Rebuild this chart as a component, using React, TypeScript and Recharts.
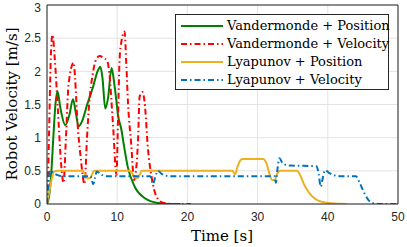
import { LineChart, Line, XAxis, YAxis, CartesianGrid } from "recharts";

// Vandermonde + Position
const greenT = [0, 0.3, 0.6, 0.9, 1.2, 1.5, 1.9, 2.6, 3.2, 3.7, 4.1, 4.5, 5.0, 5.7, 6.6, 7.2, 7.6, 7.9, 8.3, 8.7, 9.2, 9.6, 9.9, 10.1, 10.6, 10.9, 11.5, 12.5, 13.9, 15.8, 17.5, 19];
const greenV = [0, 0.12, 0.45, 1.0, 1.5, 1.7, 1.45, 1.19, 1.35, 1.58, 1.38, 1.17, 1.25, 1.49, 1.78, 2.0, 2.07, 1.9, 1.44, 1.6, 2.05, 1.8, 1.54, 1.35, 1.12, 0.92, 0.56, 0.26, 0.09, 0.015, 0, 0];

// Vandermonde + Velocity
const redT = [0, 0.1, 0.3, 0.54, 0.78, 1.1, 1.55, 2.0, 2.35, 2.7, 3.07, 3.8, 4.0, 4.3, 4.8, 5.35, 5.7, 6.0, 6.5, 7.0, 7.5, 8.1, 8.6, 8.9, 9.4, 9.9, 10.1, 10.35, 10.6, 11.05, 11.3, 11.55, 12.0, 12.4, 12.95, 13.2, 13.6, 13.9, 14.4, 14.9, 15.6, 16.5, 18, 20.5];
const redV = [0, 0.2, 1.1, 2.2, 2.55, 2.2, 1.42, 0.62, 0.32, 1.0, 1.8, 2.13, 1.9, 1.3, 0.7, 0.3, 1.0, 1.5, 1.95, 2.18, 2.23, 2.2, 2.15, 1.95, 1.2, 0.44, 1.2, 2.2, 2.45, 2.6, 2.1, 1.5, 0.9, 0.36, 0.92, 1.62, 1.69, 1.54, 0.81, 0.41, 0.11, 0.02, 0, 0];

// Lyapunov + Position
const orangeT = [0, 0.46, 1.0, 1.5, 5.1, 5.4, 5.7, 6.1, 6.4, 6.7, 11.7, 12.1, 12.5, 12.9, 13.2, 13.5, 26.4, 26.8, 27.1, 27.5, 27.8, 30.8, 31.3, 31.7, 32.1, 32.4, 32.8, 33.2, 35.6, 36.0, 36.6, 37.4, 38.3, 39.3, 40.5, 42.7];
const orangeV = [0, 0.26, 0.49, 0.5, 0.5, 0.45, 0.39, 0.39, 0.44, 0.5, 0.5, 0.47, 0.4, 0.39, 0.44, 0.5, 0.5, 0.45, 0.55, 0.65, 0.68, 0.68, 0.6, 0.45, 0.36, 0.36, 0.46, 0.5, 0.5, 0.45, 0.3, 0.16, 0.07, 0.03, 0.01, 0];

// Lyapunov + Velocity
const blueT = [0, 0.2, 0.46, 0.8, 1.4, 2.2, 6.2, 6.6, 6.8, 7.1, 7.6, 8.5, 14.7, 15.1, 15.4, 15.8, 16.4, 17.5, 32.4, 32.6, 32.8, 33.1, 33.6, 34.6, 38.4, 38.7, 39.0, 39.3, 39.6, 40.3, 41.7, 44.0, 44.5, 45.0, 45.8, 46.5, 47.5, 50];
const blueV = [0, 0.3, 0.51, 0.48, 0.44, 0.42, 0.42, 0.3, 0.38, 0.49, 0.45, 0.42, 0.42, 0.3, 0.4, 0.5, 0.45, 0.42, 0.42, 0.32, 0.5, 0.69, 0.61, 0.58, 0.57, 0.45, 0.26, 0.4, 0.51, 0.46, 0.42, 0.42, 0.33, 0.21, 0.06, 0.01, 0, 0];

const xTicks = [0, 10, 20, 30, 40, 50];
const yTicks = [0, 0.5, 1, 1.5, 2, 2.5, 3];

const FRAME = "#262626";
const SERIF = "'DejaVu Serif', serif";
const SANS = "'Liberation Sans', Arial, sans-serif";
const DASHDOT = "6 3 1.5 3";

const zip = (t: number[], v: number[]) => t.map((x, i) => ({ t: x, v: v[i] }));

const series = [
  { name: "Vandermonde + Position", data: zip(greenT, greenV), color: "#008000", dash: undefined },
  { name: "Vandermonde + Velocity", data: zip(redT, redV), color: "#ff0000", dash: DASHDOT },
  { name: "Lyapunov + Position", data: zip(orangeT, orangeV), color: "#EDB120", dash: undefined },
  { name: "Lyapunov + Velocity", data: zip(blueT, blueV), color: "#0072BD", dash: DASHDOT },
];

const tickStyle = { fontFamily: SANS, fontSize: 12, fill: FRAME };

function LegendBox() {
  return (
    <div
      style={{
        position: "absolute",
        left: 175,
        top: 14,
        width: 212,
        height: 74,
        background: "#fff",
        border: `1px solid ${FRAME}`,
        fontFamily: SERIF,
        fontSize: 13,
        color: "#000",
      }}
    >
      {series.map((s, i) => (
        <div key={s.name} style={{ position: "absolute", left: 4, top: 2 + i * 17.9, height: 18, display: "flex", alignItems: "center", whiteSpace: "nowrap" }}>
          <svg width={44} height={18} style={{ display: "block" }}>
            <line x1={1} x2={43} y1={9} y2={9} stroke={s.color} strokeWidth={2} strokeDasharray={s.dash} />
          </svg>
          <span style={{ marginLeft: 3, lineHeight: "18px", fontFamily: SERIF }}>{s.name}</span>
        </div>
      ))}
    </div>
  );
}

export default function App() {
  return (
    <div style={{ position: "fixed", left: 0, top: 0, width: 407, height: 247, background: "#fff" }}>
      <LineChart width={407} height={247} margin={{ top: 5, right: 9, bottom: 0, left: 0 }}>
        <CartesianGrid stroke="#e3e3e3" strokeWidth={1} />
        <XAxis
          dataKey="t"
          type="number"
          domain={[0, 50]}
          ticks={xTicks}
          height={43}
          tick={tickStyle}
          tickLine={false}
          tickSize={6}
          axisLine={{ stroke: FRAME }}
          allowDataOverflow
          label={{
            content: () => (
              <text x={222} y={236} textAnchor="middle" dominantBaseline="central" style={{ fontFamily: SERIF, fontSize: 15 }} fill="#000">
                Time [s]
              </text>
            ),
          }}
        />
        <YAxis
          type="number"
          domain={[0, 3]}
          ticks={yTicks}
          width={47}
          tick={tickStyle}
          tickLine={false}
          tickSize={4}
          tickMargin={2}
          axisLine={{ stroke: FRAME }}
          allowDataOverflow
          label={{
            content: () => (
              <text
                x={12}
                y={104}
                transform="rotate(-90 12 104)"
                textAnchor="middle"
                dominantBaseline="central"
                style={{ fontFamily: SERIF, fontSize: 15 }}
                fill="#000"
              >
                Robot Velocity [m/s]
              </text>
            ),
          }}
        />
        {/* inward ticks and the rest of the box */}
        <XAxis xAxisId="bi" type="number" domain={[0, 50]} ticks={xTicks} orientation="bottom" mirror tick={false} tickSize={4} tickLine={{ stroke: FRAME }} axisLine={false} />
        <XAxis xAxisId="top" type="number" domain={[0, 50]} ticks={xTicks} orientation="top" mirror tick={false} tickSize={4} tickLine={{ stroke: FRAME }} axisLine={{ stroke: FRAME }} />
        <YAxis yAxisId="li" type="number" domain={[0, 3]} ticks={yTicks} orientation="left" mirror tick={false} tickSize={4} tickLine={{ stroke: FRAME }} axisLine={false} />
        <YAxis yAxisId="right" type="number" domain={[0, 3]} ticks={yTicks} orientation="right" mirror tick={false} tickSize={4} tickLine={{ stroke: FRAME }} axisLine={{ stroke: FRAME }} />
        {series.map((s) => (
          <Line
            key={s.name}
            data={s.data}
            dataKey="v"
            type="monotone"
            stroke={s.color}
            strokeWidth={2}
            strokeDasharray={s.dash}
            dot={false}
            activeDot={false}
            isAnimationActive={false}
          />
        ))}
      </LineChart>
      <LegendBox />
    </div>
  );
}
